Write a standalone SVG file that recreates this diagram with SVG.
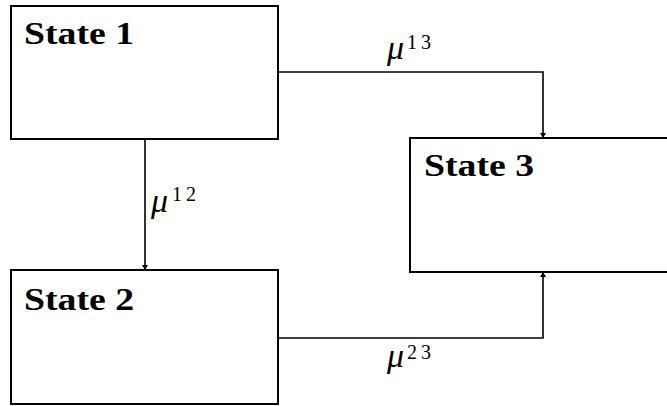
<svg xmlns="http://www.w3.org/2000/svg" width="667" height="406" viewBox="0 0 667 406">
<defs>
<style>
.box{fill:#fff;stroke:#000;stroke-width:2}
.lbl{font-family:"Liberation Serif",serif;font-weight:bold;font-size:32px;fill:#000}
.edge{fill:none;stroke:#000;stroke-width:1.6}
.mu{font-family:"Liberation Serif",serif;font-style:italic;font-size:34px;fill:#000}
.sup{font-family:"Liberation Serif",serif;font-size:20px;fill:#000}
</style>
<marker id="ah" viewBox="0 0 10 10" refX="10" refY="5" markerWidth="5" markerHeight="6" markerUnits="userSpaceOnUse" orient="auto" preserveAspectRatio="none">
<path d="M0,0 L10,5 L0,10 Z" fill="#000"/>
</marker>
</defs>
<rect width="667" height="406" fill="#fff"/>
<g id="connectors">
<path class="edge" d="M278,72 H543 V138" marker-end="url(#ah)"/>
<path class="edge" d="M145,139 V270" marker-end="url(#ah)"/>
<path class="edge" d="M278,338 H543 V272" marker-end="url(#ah)"/>
<text x="387" y="59"><tspan class="mu">μ</tspan><tspan class="sup" x="407" y="49">1</tspan><tspan class="sup" x="421" y="49">3</tspan></text>
<text x="151" y="212"><tspan class="mu">μ</tspan><tspan class="sup" x="172" y="201">1</tspan><tspan class="sup" x="186" y="201">2</tspan></text>
<text x="387" y="367"><tspan class="mu">μ</tspan><tspan class="sup" x="407" y="359">2</tspan><tspan class="sup" x="421" y="359">3</tspan></text>
</g>
<g id="state1">
<rect class="box" x="11" y="6" width="267" height="133"/>
<text class="lbl" x="24" y="44" textLength="110" lengthAdjust="spacingAndGlyphs">State 1</text>
</g>
<g id="state2">
<rect class="box" x="11" y="270" width="267" height="134"/>
<text class="lbl" x="24" y="310" textLength="110" lengthAdjust="spacingAndGlyphs">State 2</text>
</g>
<g id="state3">
<rect class="box" x="410" y="138" width="280" height="134"/>
<text class="lbl" x="424" y="176" textLength="110" lengthAdjust="spacingAndGlyphs">State 3</text>
</g>
</svg>
